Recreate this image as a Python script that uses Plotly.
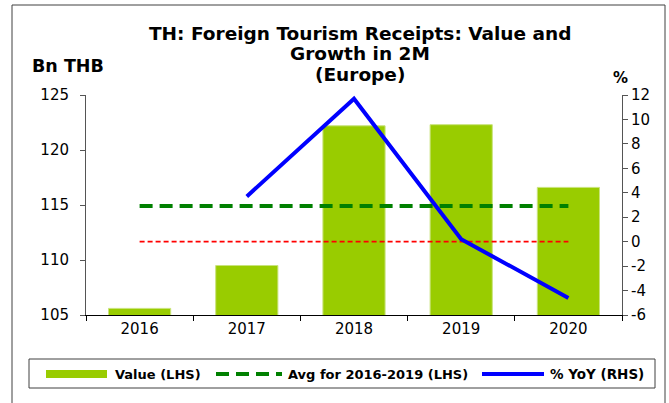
import plotly.graph_objects as go

years = ["2016", "2017", "2018", "2019", "2020"]
value_bn_thb = [105.6, 109.5, 122.2, 122.3, 116.6]
avg_2016_2019 = [114.9, 114.9, 114.9, 114.9, 114.9]
zero_line = [0, 0, 0, 0, 0]
yoy_years = ["2017", "2018", "2019", "2020"]
yoy_pct = [3.7, 11.7, 0.2, -4.6]

left_ticks = [105, 110, 115, 120, 125]
right_ticks = [-6, -4, -2, 0, 2, 4, 6, 8, 10, 12]
right_tick_labels = ["-6", "-4", "-2", "0", "2", "4", "6", "8", "10", "12"]

title_lines = ["TH: Foreign Tourism Receipts: Value and", "Growth in 2M", "(Europe)"]
left_title = "Bn THB"
right_title = "%"
legend_labels = ["Value (LHS)", "Avg for 2016-2019 (LHS)", "% YoY (RHS)"]

W, H = 669, 403
L, R, T, B = 86, 622, 95, 315
FONT = "DejaVu Sans"


def xp(px):
    return (px - L) / (R - L)


def yp(py):
    return (B - py) / (B - T)


fig = go.Figure()
fig.add_trace(go.Bar(x=years, y=value_bn_thb, marker=dict(color="#99CC00", line=dict(color="#C9E37C", width=1)),
                     showlegend=False))
fig.add_trace(go.Scatter(x=years, y=avg_2016_2019, mode="lines",
                         line=dict(color="#008000", width=4, dash="13px,7px"), showlegend=False))
fig.add_trace(go.Scatter(x=years, y=zero_line, mode="lines", yaxis="y2",
                         line=dict(color="#FF0000", width=1.7, dash="5px,3px"), showlegend=False))
fig.add_trace(go.Scatter(x=yoy_years, y=yoy_pct, mode="lines", yaxis="y2",
                         line=dict(color="#0000FF", width=4), showlegend=False))

shapes = []
annotations = []
# outer frame
shapes.append(dict(type="rect", xref="paper", yref="paper", x0=xp(12), x1=xp(665), y0=yp(420), y1=yp(5),
                   line=dict(color="#404040", width=1), fillcolor="rgba(0,0,0,0)", layer="below"))
# legend box
shapes.append(dict(type="rect", xref="paper", yref="paper", x0=xp(29), x1=xp(655), y0=yp(388), y1=yp(359),
                   line=dict(color="#404040", width=1), fillcolor="white"))
ly = 374
shapes.append(dict(type="rect", xref="paper", yref="paper", x0=xp(46), x1=xp(107), y0=yp(378), y1=yp(370),
                   line=dict(width=0), fillcolor="#99CC00"))
shapes.append(dict(type="line", xref="paper", yref="paper", x0=xp(216), x1=xp(282), y0=yp(ly), y1=yp(ly),
                   line=dict(color="#008000", width=4, dash="13px,7px")))
shapes.append(dict(type="line", xref="paper", yref="paper", x0=xp(482), x1=xp(544), y0=yp(ly), y1=yp(ly),
                   line=dict(color="#0000FF", width=4)))
for txt, x0, fs in zip(legend_labels, [113, 286, 548], [13, 13, 13.5]):
    annotations.append(dict(text="<b>%s</b>" % txt, xref="paper", yref="paper", x=xp(x0), y=yp(ly),
                            xanchor="left", yanchor="middle", showarrow=False,
                            font=dict(family=FONT, size=fs, color="black")))

for txt, y in zip(title_lines, [33, 53, 74]):
    annotations.append(dict(text="<b>%s</b>" % txt, xref="paper", yref="paper", x=xp(360), y=yp(y),
                            xanchor="center", yanchor="middle", showarrow=False,
                            font=dict(family=FONT, size=18.5, color="black")))
annotations.append(dict(text="<b>%s</b>" % left_title, xref="paper", yref="paper", x=xp(30), y=yp(66),
                        xanchor="left", yanchor="middle", showarrow=False,
                        font=dict(family=FONT, size=17.5, color="black")))
annotations.append(dict(text="<b>%s</b>" % right_title, xref="paper", yref="paper", x=xp(620), y=yp(78),
                        xanchor="center", yanchor="middle", showarrow=False,
                        font=dict(family=FONT, size=15, color="black")))

fig.update_layout(
    width=W, height=H,
    margin=dict(l=L, r=W - R, t=T, b=H - B, pad=0),
    paper_bgcolor="white", plot_bgcolor="white",
    bargap=0.42,
    font=dict(family=FONT, size=15, color="black"),
    xaxis=dict(type="category", showline=True, linecolor="black", linewidth=1,
               ticks="outside", ticklen=5, tickcolor="black", tickson="boundaries",
               showgrid=False, zeroline=False, tickfont=dict(size=15), fixedrange=True),
    yaxis=dict(range=[105, 125], tickvals=left_ticks, showline=True, linecolor="#555555", linewidth=1,
               ticks="outside", ticklen=5, tickcolor="#555555", showgrid=False, zeroline=False,
               tickfont=dict(size=15), ticklabelstandoff=8),
    yaxis2=dict(range=[-6, 12], tickvals=right_ticks, ticktext=right_tick_labels, overlaying="y", side="right",
                showline=True, linecolor="#555555", linewidth=1, ticks="outside", ticklen=5,
                tickcolor="#555555", showgrid=False, zeroline=False, tickfont=dict(size=15)),
    shapes=shapes,
    annotations=annotations,
)

fig.write_html("out.html", config={"displayModeBar": False},
               post_script="document.body.style.margin='0';document.body.style.overflow='hidden';")
